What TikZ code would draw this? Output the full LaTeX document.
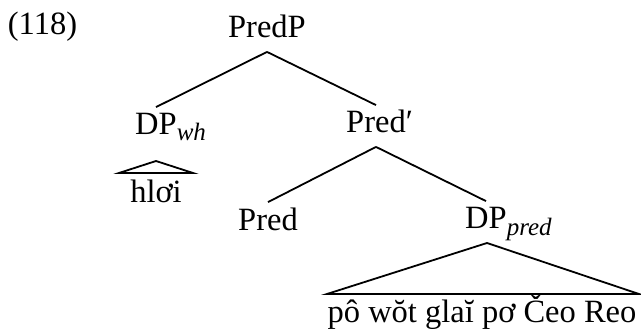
\documentclass[tikz,border=0pt]{standalone}
\usepackage{fontspec}
\setmainfont{Liberation Serif}
\usetikzlibrary{calc}
\newcommand{\subi}[1]{\rlap{\raisebox{-6pt}{\fontsize{25}{25}\selectfont\itshape #1}}}
\begin{document}
\begin{tikzpicture}[x=1pt,y=-1pt,line width=1.8pt,
  lab/.style={inner xsep=0pt,inner ysep=5pt,text height=22pt,text depth=8pt,anchor=base,font=\fontsize{32.5}{36}\selectfont},
  tri/.style={line join=miter}]
\useasboundingbox (0,0) rectangle (641,329);
\node[lab,anchor=base west] (ex) at (7,35) {(118)};
\node[lab] (predp) at (267,38) {PredP};
\node[lab] (dpwh) at (156,135) {DP\subi{wh}};
\node[lab] (predbar) at (376,133) {Pred\rlap{′}};
\node[lab] (pred) at (268,230) {Pred};
\node[lab] (dppred) at (486,229) {DP\subi{pred}};
\node[lab] (hloi) at (156,202) {hlơi};
\node[lab] (long) at (482,322) {pô wŏt glaĭ pơ Čeo Reo};
\draw (predp.south) -- (dpwh.north);
\draw (predp.south) -- (predbar.north);
\draw (predbar.south) -- (pred.north);
\draw (predbar.south) -- (dppred.north);
\draw[tri] ($(hloi.base)+(0,-41)$) -- ($(hloi.base)+(-37,-29)$) -- ($(hloi.base)+(37,-29)$) -- cycle;
\draw[tri] ($(long.base)+(5,-79)$) -- ($(long.base)+(-155,-28)$) -- ($(long.base)+(157,-28)$) -- cycle;
\end{tikzpicture}
\end{document}
